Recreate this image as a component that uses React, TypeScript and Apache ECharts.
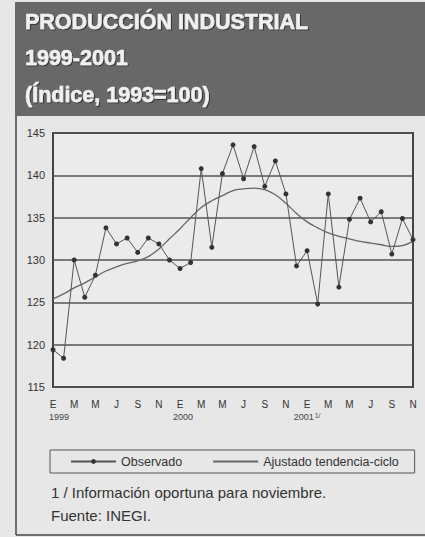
import React, { useEffect, useRef } from 'react';
import * as echarts from 'echarts';

const monthLetters = [
  'E', 'F', 'M', 'A', 'M', 'J', 'J', 'A', 'S', 'O', 'N', 'D',
  'E', 'F', 'M', 'A', 'M', 'J', 'J', 'A', 'S', 'O', 'N', 'D',
  'E', 'F', 'M', 'A', 'M', 'J', 'J', 'A', 'S', 'O', 'N',
];
const yearLabels = ['1999', '2000', '2001'];
const yearStartIndex = [0, 12, 24];
const yearNote = ['', '', '1/'];

const observado = [
  119.4, 118.4, 130.0, 125.6, 128.2, 133.8, 131.9, 132.6, 130.9, 132.6, 131.9, 130.0,
  129.0, 129.7, 140.8, 131.5, 140.2, 143.6, 139.6, 143.4, 138.7, 141.7, 137.8, 129.3,
  131.1, 124.8, 137.8, 126.8, 134.8, 137.3, 134.5, 135.7, 130.7, 134.9, 132.4,
];
const tendencia = [
  125.4, 126.0, 126.7, 127.3, 128.0, 128.7, 129.2, 129.6, 129.9, 130.4, 131.3, 132.5,
  133.7, 135.0, 136.2, 137.0, 137.6, 138.2, 138.4, 138.5, 138.3, 137.7, 136.7, 135.5,
  134.5, 133.8, 133.2, 132.8, 132.5, 132.2, 132.0, 131.8, 131.6, 131.7, 132.2,
];
const yMin = 115;
const yMax = 145;
const yStep = 5;

const titleLines = ['PRODUCCIÓN INDUSTRIAL', '1999-2001', '(Índice, 1993=100)'];
const footnotes = ['1 / Información oportuna para noviembre.', 'Fuente: INEGI.'];
const seriesNames = ['Observado', 'Ajustado tendencia-ciclo'];

const SANS = "'Liberation Sans', Arial, Helvetica, sans-serif";

export default function App() {
  const ref = useRef<HTMLDivElement>(null);
  useEffect(() => {
    const chart = echarts.init(ref.current!, null, { renderer: 'svg' });
    const titleY = [22, 58, 95];
    const noteY = [492, 515];
    chart.setOption({
      animation: false,
      backgroundColor: '#e7e7e7',
      textStyle: { fontFamily: SANS },
      grid: { left: 53, right: 12, top: 133, bottom: 150, show: true, borderColor: '#444', borderWidth: 2, backgroundColor: '#ebebeb' },
      xAxis: {
        type: 'category',
        data: monthLetters,
        boundaryGap: false,
        axisLine: { show: false },
        axisTick: { show: false },
        splitLine: { show: false },
        axisLabel: {
          interval: 1,
          margin: 11,
          formatter: (value: string, index: number) => {
            const yi = yearStartIndex.indexOf(index);
            if (yi < 0) return `{m|${value}}`;
            const note = yearNote[yi] ? `{s|${yearNote[yi]}}` : '';
            return `{m|${value}}\n{y${yi}|${yearLabels[yi]}}${note}`;
          },
          rich: {
            m: { fontSize: 10, color: '#333', fontFamily: SANS, lineHeight: 13 },
            y0: { fontSize: 9, color: '#444', fontFamily: SANS, lineHeight: 12, padding: [0, 0, 0, 12] },
            y1: { fontSize: 9, color: '#444', fontFamily: SANS, lineHeight: 12, padding: [0, 0, 0, 6] },
            y2: { fontSize: 9, color: '#444', fontFamily: SANS, lineHeight: 12, padding: [0, 0, 0, 0] },
            s: { fontSize: 7, color: '#444', fontFamily: SANS, lineHeight: 12, padding: [0, 0, 4, 1] },
          },
        },
      },
      yAxis: {
        type: 'value',
        min: yMin,
        max: yMax,
        interval: yStep,
        axisLine: { show: false },
        axisTick: { show: false },
        axisLabel: { fontSize: 11, color: '#333', margin: 8, fontFamily: SANS },
        splitLine: { show: true, lineStyle: { color: '#555', width: 1.6 } },
      },
      legend: {
        left: 50,
        top: 450,
        padding: [5, 16, 5, 20],
        itemGap: 30,
        itemWidth: 45,
        itemHeight: 6,
        borderColor: '#555',
        borderWidth: 1,
        textStyle: { fontSize: 12.5, color: '#333', fontFamily: SANS },
        data: [
          { name: seriesNames[0] },
          { name: seriesNames[1], itemStyle: { opacity: 0 } },
        ],
      },
      graphic: [
        { type: 'rect', shape: { x: 15, y: 2, width: 410, height: 114 }, style: { fill: '#686868' }, z: 0 },
        ...titleLines.map((t, i) => ({
          type: 'text',
          x: 25,
          y: titleY[i],
          style: {
            text: t,
            fill: '#f0f0f0',
            font: `bold 21.5px ${SANS}`,
            textVerticalAlign: 'middle',
            stroke: '#f0f0f0',
            lineWidth: 0.6,
            textShadowColor: 'rgba(0,0,0,0.55)',
            textShadowOffsetX: 1,
            textShadowOffsetY: 1,
            textShadowBlur: 1,
          },
          z: 1,
        })),
        { type: 'line', shape: { x1: 16, y1: 116, x2: 16, y2: 535 }, style: { stroke: '#444', lineWidth: 1.5 } },
        { type: 'line', shape: { x1: 16, y1: 535, x2: 425, y2: 535 }, style: { stroke: '#444', lineWidth: 1.5 } },
        ...footnotes.map((t, i) => ({
          type: 'text',
          x: 51,
          y: noteY[i],
          style: { text: t, fill: '#333', font: `15px ${SANS}`, textVerticalAlign: 'middle' },
        })),
      ],
      series: [
        {
          name: seriesNames[0],
          type: 'line',
          data: observado,
          symbol: 'circle',
          symbolSize: 5,
          itemStyle: { color: '#333' },
          lineStyle: { color: '#555', width: 1 },
          z: 3,
        },
        {
          name: seriesNames[1],
          type: 'line',
          data: tendencia,
          smooth: 0.4,
          symbol: 'none',
          itemStyle: { color: '#666' },
          lineStyle: { color: '#666', width: 1.3 },
          z: 2,
        },
      ],
    });
    return () => chart.dispose();
  }, []);
  return (
    <div
      ref={ref}
      style={{ position: 'fixed', left: 0, top: 0, width: 425, height: 537 }}
    />
  );
}
